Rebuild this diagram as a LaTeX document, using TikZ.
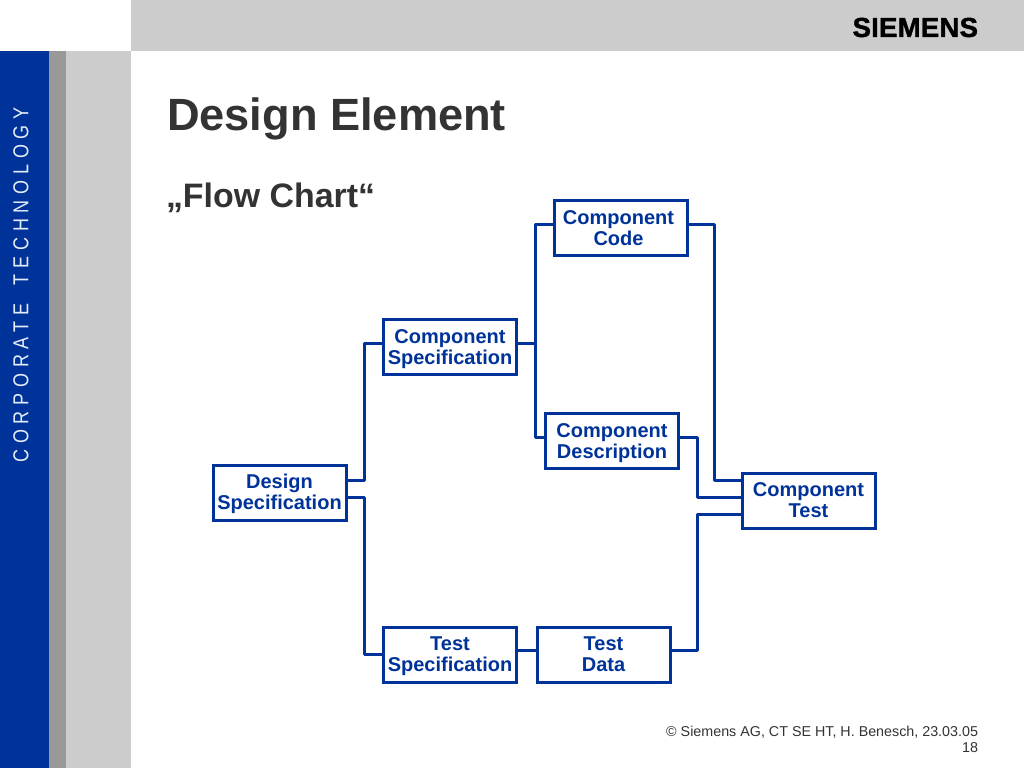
\documentclass[tikz,border=0pt]{standalone}
\usepackage{graphicx}
\usepackage{fontspec}
\setmainfont{Liberation Sans}
\newfontfamily\spaced[LetterSpace=32]{Liberation Sans}
\newfontfamily\logofont[FakeBold=1.5,LetterSpace=1]{Liberation Sans Bold}
\usetikzlibrary{calc}
\definecolor{sblue}{HTML}{003399}
\definecolor{sgrey}{HTML}{CCCCCC}
\definecolor{dgrey}{HTML}{999999}
\definecolor{tgrey}{HTML}{333333}
\definecolor{sidetext}{HTML}{E4ECF8}
\newcommand\twolines[2]{\rule{0pt}{17pt}#1\\#2\rule[-6pt]{0pt}{6pt}}
\newcommand\twolinesb[2]{\rule{0pt}{19pt}#1\\#2\rule[-6pt]{0pt}{6pt}}
\tikzset{
  boxnode/.style={draw=sblue,line width=3pt,fill=white,text=sblue,minimum width=133pt,minimum height=55.5pt,inner sep=0pt,outer sep=0pt,align=center,font=\fontsize{20}{21}\selectfont\bfseries},
  link/.style={draw=sblue,line width=3pt,line join=round},
  plain/.style={inner sep=0pt,outer sep=0pt}
}
\begin{document}
\begin{tikzpicture}[x=1pt,y=-1pt]
\useasboundingbox (0,0) rectangle (1024,768);
\fill[white] (0,0) rectangle (1024,768);
\fill[sgrey] (131,0) rectangle (1024,51);
\fill[sblue] (0,51) rectangle (49,768);
\fill[dgrey] (49,51) rectangle (66,768);
\fill[sgrey] (66,51) rectangle (131,768);
\node[plain,anchor=east,text=black] (logo) at (978,27.5) {\logofont\fontsize{27.5}{29}\selectfont SIEMENS};
\node[plain,rotate=90,text=sidetext] (side) at (21,285) {\scalebox{1}[1.2]{\spaced\fontsize{18}{19}\selectfont CORPORATE\hspace{8pt} TECHNOLOGY}};
\node[plain,anchor=base west,text=tgrey] (title) at (167,130) {\fontsize{45.2}{46}\selectfont\bfseries Design Element};
\node[plain,anchor=base west,text=tgrey] (sub) at (166,207.5) {\fontsize{33.9}{34}\selectfont\bfseries „Flow Chart“};
\node[plain,anchor=base east,text=tgrey] (foot1) at (978,736) {\fontsize{14.3}{15}\selectfont © Siemens AG, CT SE HT, H. Benesch, 23.03.05};
\node[plain,anchor=base east,text=tgrey] (foot2) at (978,752) {\fontsize{14.3}{15}\selectfont 18};

\node[boxnode] (ds) at (279.5,493) {\twolines{Design}{Specification}};
\node[boxnode] (cs) at (450,347) {\twolinesb{Component}{Specification}};
\node[boxnode] (ts) at (450,655) {\twolines{Test}{Specification}};
\node[boxnode] (td) at (603.5,655) {\twolines{Test}{Data}};
\node[boxnode] (cc) at (620.5,228) {\twolinesb{Component\hspace*{4pt}}{Code\hspace*{4pt}}};
\node[boxnode] (cd) at (612,441) {\twolinesb{Component}{Description}};
\node[boxnode] (ct) at (808.5,501) {\twolines{Component}{Test}};

\path[link] ([yshift=13pt]ds.east) -- ++(18.2,0) |- ([yshift=4pt]cs.west);
\path[link] ([yshift=-4pt]ds.east) -- ++(18.2,0) |- ([yshift=1pt]ts.west);
\path[link] ([yshift=4pt]cs.east) -- ++(18.5,0);
\path[link] ([yshift=4pt]cc.west) -- ++(-18.5,0) |- ([yshift=4pt]cd.west);
\path[link] ([yshift=5pt]ts.east) -- ([yshift=5pt]td.west);
\path[link] ([yshift=4pt]cc.east) -- ++(27,0) |- ([yshift=21pt]ct.west);
\path[link] ([yshift=4pt]cd.east) -- ++(18.5,0) |- ([yshift=4pt]ct.west);
\path[link] ([yshift=5pt]td.east) -- ++(27,0) |- ([yshift=-13pt]ct.west);
\end{tikzpicture}
\end{document}
